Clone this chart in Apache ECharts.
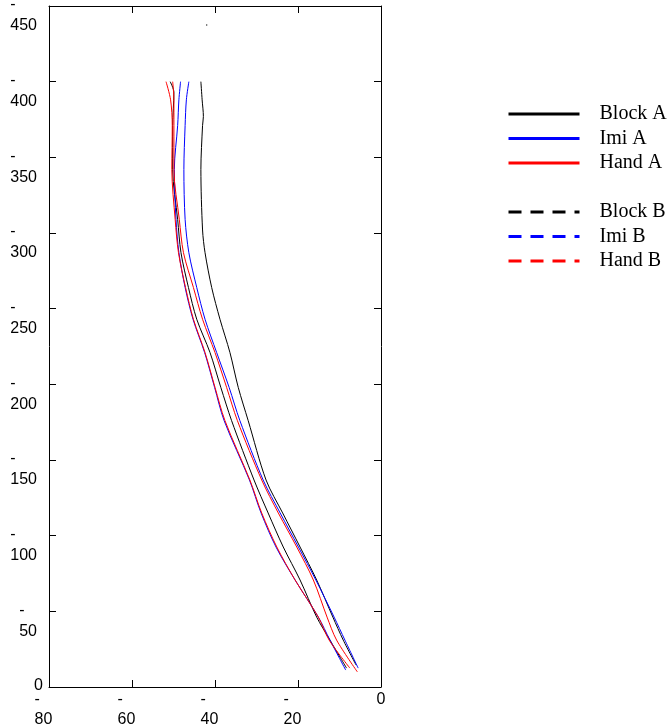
<!DOCTYPE html>
<html><head><meta charset="utf-8">
<script src="https://cdn.jsdelivr.net/npm/echarts@6/dist/echarts.min.js"></script>
<style>html,body{margin:0;padding:0;background:#fff}#c{width:669px;height:728px}</style>
</head><body><div id="c"></div>
<script>
// Axis ranges
const xMin = -80, xMax = 0, xStep = 20;
const yMin = -450, yMax = 0, yStep = 50;

// Legend names
const namesA = ['Block A', 'Imi A', 'Hand A'];
const namesB = ['Block B', 'Imi B', 'Hand B'];

// Curves (x value, y value)
const blockA_x = [-43.4, -43.1, -42.8, -43.0, -43.4, -43.0, -42.4, -40.8, -38.8, -36.4, -34.4, -32.0, -27.7, -23.7, -19.5, -15.5, -11.6, -9.1, -6.0];
const blockA_y = [-400, -388, -377, -371, -342, -302, -287, -264, -243, -221, -198, -176, -136.8, -115, -92.5, -70.7, -46.2, -31, -14.5];

const imiA_x = [-46.3, -46.9, -47.2, -47.5, -47.2, -46.3, -44.4, -42.4, -39.6, -36.6, -34.0, -28.4, -24.3, -19.9, -15.7, -11.3, -8.7, -5.5];
const imiA_y = [-400, -388, -371, -342, -309, -287, -264, -243, -221, -198, -176, -136.8, -115, -92.5, -70.7, -46.2, -31, -12.5];

const handA_x = [-50.2, -49.9, -49.9, -49.9, -48.6, -47.6, -45.2, -43.0, -40.0, -37.2, -34.6, -28.75, -24.75, -20.3, -16.3, -13.0, -10.7, -5.7];
const handA_y = [-400, -388, -371, -342, -309, -287, -264, -243, -221, -198, -176, -136.8, -115, -92.5, -70.7, -46.2, -31, -10];

const blockB_x = [-50.8, -49.9, -50.2, -50.2, -49.0, -48.2, -46.4, -44.4, -41.2, -38.6, -36.0, -30.6, -27.2, -23.55, -19.5, -15.5, -12.3, -8.3];
const blockB_y = [-400, -393, -371, -342, -309, -287, -264, -243, -221, -198, -176, -136.8, -115, -92.5, -70.7, -46.2, -31, -12.5];

const imiB_x = [-48.3, -48.7, -49.0, -49.8, -49.4, -48.7, -47.2, -45.3, -42.5, -40.1, -37.8, -31.7, -28.9, -25.3, -20.7, -15.1, -12.3, -8.5];
const imiB_y = [-400, -388, -371, -342, -309, -287, -264, -243, -221, -198, -176, -136.8, -115, -92.5, -70.7, -46.2, -31, -11.2];

const handB_x = [-51.8, -50.7, -50.3, -50.4, -49.6, -48.8, -47.1, -45.2, -42.4, -40.0, -37.6, -31.6, -28.75, -25.1, -20.7, -15.1, -12.5, -7.5];
const handB_y = [-400, -388, -371, -342, -309, -287, -264, -243, -221, -198, -176, -136.8, -115, -92.5, -70.7, -46.2, -31, -12.5];

const strayDot = [[-42.0, -437.4]];

const colors = {Block: '#000000', Imi: '#0000ff', Hand: '#ff0000'};

function pairs(xs, ys) { return xs.map((x, i) => [x, ys[i]]); }

const curveDefs = [
  ['Block A', blockA_x, blockA_y, colors.Block],
  ['Block B', blockB_x, blockB_y, colors.Block],
  ['Imi A', imiA_x, imiA_y, colors.Imi],
  ['Imi B', imiB_x, imiB_y, colors.Imi],
  ['Hand A', handA_x, handA_y, colors.Hand],
  ['Hand B', handB_x, handB_y, colors.Hand]
];

const series = curveDefs.map(d => ({
  name: d[0], type: 'line', data: pairs(d[1], d[2]),
  symbol: 'none', showSymbol: false, smooth: 0.3, animation: false,
  color: d[3], lineStyle: {color: d[3], width: 1}
}));
series.push({name: 'dot', type: 'scatter', data: strayDot, symbolSize: 1.5,
  itemStyle: {color: '#000'}, animation: false, silent: true});

const labelFont = {fontFamily: 'Liberation Sans, Arial, sans-serif', fontSize: 16, color: '#000'};
const axisLineStyle = {onZero: false, lineStyle: {color: '#000', width: 1}};
const tickStyle = {show: true, inside: true, length: 7, lineStyle: {color: '#000', width: 1}};

const legendBase = {
  orient: 'vertical', left: 507, padding: 0, itemWidth: 71, itemHeight: 14, itemGap: 4.5,
  selectedMode: false,
  textStyle: {fontFamily: 'Liberation Serif, Times New Roman, serif', fontSize: 20, color: '#000',
    lineHeight: 20, padding: [0, 0, 0, 15]},
  itemStyle: {opacity: 0},
  lineStyle: {width: 3}
};

const option = {
  backgroundColor: '#fff',
  animation: false,
  grid: {left: 49, top: 6, width: 332, height: 681, containLabel: false, outerBoundsMode: 'none'},
  legend: [
    Object.assign({}, legendBase, {top: 104, data: namesA.map(n => ({name: n}))}),
    Object.assign({}, legendBase, {top: 202,
      data: namesB.map(n => ({name: n, lineStyle: {type: [13, 9], width: 3}}))})
  ],
  xAxis: [
    {type: 'value', position: 'bottom', min: xMin, max: xMax, interval: xStep,
     axisLine: axisLineStyle, axisTick: tickStyle, splitLine: {show: false},
     axisLabel: Object.assign({}, labelFont, {
       margin: 3, lineHeight: 20, showMinLabel: true, showMaxLabel: true,
       formatter: v => v < 0 ? '{m|-}\n{n|' + (-v) + '}' : '{z|' + v + '}',
       rich: {
         m: Object.assign({}, labelFont, {align: 'left', lineHeight: 20}),
         n: Object.assign({}, labelFont, {align: 'left', lineHeight: 20, padding: [0, 11, 0, 0]}),
         z: Object.assign({}, labelFont, {lineHeight: 20})
       }
     })},
    {type: 'value', position: 'top', min: xMin, max: xMax, interval: xStep,
     axisLine: axisLineStyle, axisTick: tickStyle, splitLine: {show: false},
     axisLabel: {show: false}}
  ],
  yAxis: [
    {type: 'value', position: 'left', inverse: true, min: yMin, max: yMax, interval: yStep,
     axisLine: axisLineStyle, axisTick: tickStyle, splitLine: {show: false},
     axisLabel: Object.assign({}, labelFont, {
       margin: 6, lineHeight: 21, padding: [19, 0, 0, 0], showMinLabel: true, showMaxLabel: true,
       formatter: v => v < 0 ? '{m|-}\n{n|' + (-v) + '}' : '{z|' + v + '}\n{z| }',
       rich: {
         m: Object.assign({}, labelFont, {align: 'left', lineHeight: 21}),
         n: Object.assign({}, labelFont, {align: 'left', lineHeight: 21, padding: [0, 6, 0, 0]}),
         z: Object.assign({}, labelFont, {align: 'right', lineHeight: 21})
       }
     })},
    {type: 'value', position: 'right', inverse: true, min: yMin, max: yMax, interval: yStep,
     axisLine: axisLineStyle, axisTick: tickStyle, splitLine: {show: false},
     axisLabel: {show: false}}
  ],
  series: series
};

const chart = echarts.init(document.getElementById('c'), null, {renderer: 'canvas'});
chart.setOption(option);
</script>
</body></html>
